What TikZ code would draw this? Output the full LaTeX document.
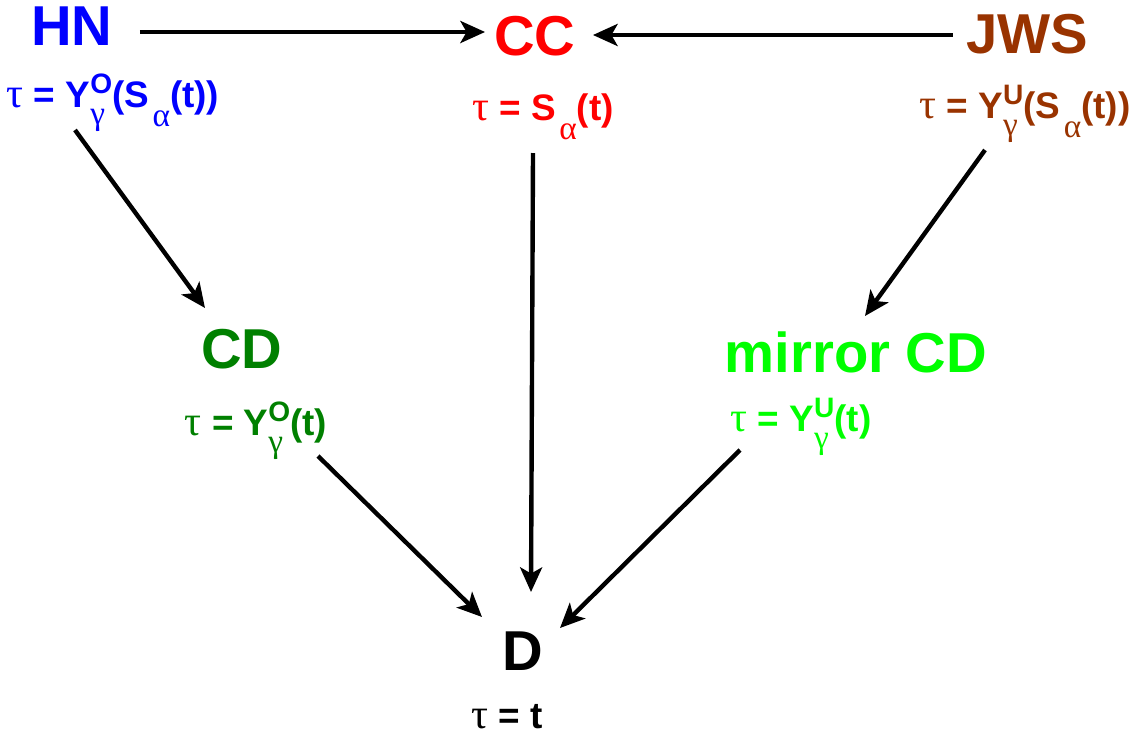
\documentclass[tikz,border=0pt]{standalone}
\usepackage{fontspec}
\setmainfont{Liberation Sans}
\newfontfamily\grkfont{Liberation Serif}
\usetikzlibrary{arrows.meta,positioning}
\definecolor{jwsbrown}{RGB}{153,51,0}
\definecolor{cdgreen}{RGB}{0,128,0}
\definecolor{mirrorgreen}{RGB}{0,255,0}
\newcommand{\gk}[1]{{\grkfont\mdseries #1}}
\newcommand{\tauchar}{{\fontsize{24}{24}\selectfont\gk{τ}}}
\newcommand{\smallfnt}{\fontsize{16}{16}\selectfont}
\newcommand{\grkfnt}{\fontsize{19}{19}\selectfont}
\newcommand{\Ysupsub}[2]{Y\rlap{\raisebox{-10pt}{\grkfnt\gk{#2}}}\raisebox{7.5pt}{\smallfnt #1}}
\newcommand{\Ssub}{S\hspace{2pt}\raisebox{-11pt}{\grkfnt\gk{α}}}
\tikzset{
  title/.style={font=\fontsize{32}{36}\selectfont\bfseries, anchor=base, inner sep=0pt},
  formula/.style={font=\fontsize{21}{25}\selectfont\bfseries, anchor=base, inner sep=0pt},
  arr/.style={-{Stealth[length=14pt,width=12.5pt,inset=3.5pt]}, line width=2.5pt},
}
\begin{document}
\begin{tikzpicture}[x=0.02cm,y=-0.02cm]
\useasboundingbox (0,0) rectangle (1140,738);
% top row
\node[title, blue] (hn) at (72,45) {HN};
\node[formula, blue] (hnf) at (113,107) {\tauchar{} = \Ysupsub{O}{γ}(\Ssub(t))};
\node[title, red] (cc) at (535,55) {CC};
\node[formula, red] (ccf) at (543,120) {\tauchar{} = \Ssub(t)};
\node[title, jwsbrown] (jws) at (1027,53) {JWS};
\node[formula, jwsbrown] (jwsf) at (1025,118) {\tauchar{} = \Ysupsub{U}{γ}(\Ssub(t))};
% middle row
\node[title, cdgreen] (cd) at (242,368) {CD};
\node[formula, cdgreen] (cdf) at (256,435) {\tauchar{} = \Ysupsub{O}{γ}(t)};
\node[title, mirrorgreen] (mcd) at (856,372) {mirror CD};
\node[formula, mirrorgreen] (mcdf) at (801,431) {\tauchar{} = \Ysupsub{U}{γ}(t)};
% bottom
\node[title] (d) at (523,670) {D};
\node[formula] (df) at (507,728) {\tauchar{} = t};
% arrows
\draw[arr] ([shift={(27,-13)}]hn.base east) -- ([shift={(-9,-23)}]cc.base west);
\draw[arr] ([shift={(-13,-18)}]jws.base west) -- ([shift={(17,-20)}]cc.base east);
\draw[arr] ([shift={(-38,23)}]hnf.base) -- ([shift={(-37,-60)}]cd.base);
\draw[arr] ([shift={(-40,32)}]jwsf.base) -- ([shift={(9,-56)}]mcd.base);
\draw[arr] ([shift={(-10,33)}]ccf.base) -- ([shift={(8,-78)}]d.base);
\draw[arr] ([shift={(62,21)}]cdf.base) -- ([shift={(-41,-53)}]d.base);
\draw[arr] ([shift={(-61,19)}]mcdf.base) -- ([shift={(37,-42)}]d.base);
\end{tikzpicture}
\end{document}
